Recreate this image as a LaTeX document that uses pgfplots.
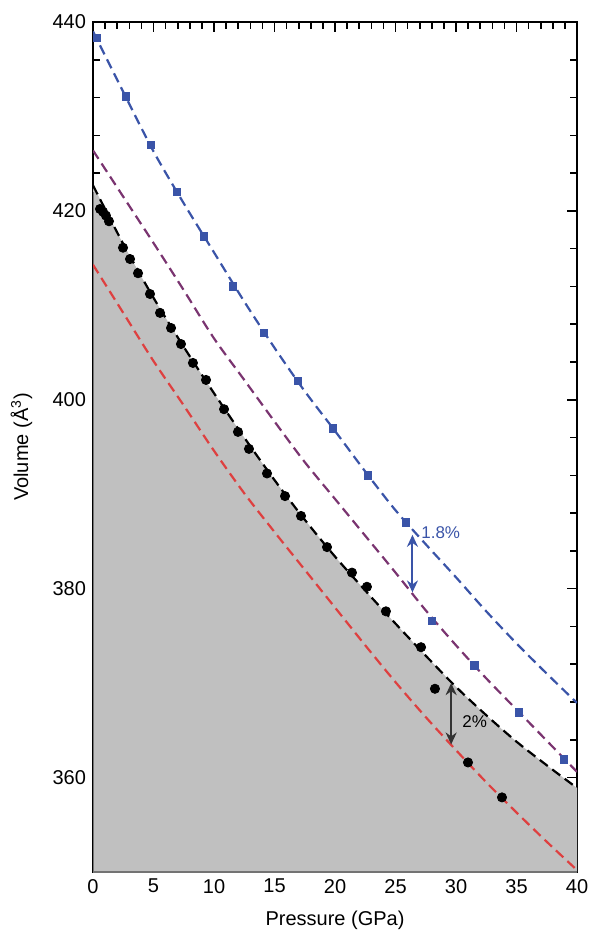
\documentclass[border=0pt]{standalone}
\usepackage{fontspec}
\setmainfont{Liberation Sans}
\usepackage{pgfplots}
\pgfplotsset{compat=1.18}
\usetikzlibrary{arrows.meta}
\definecolor{fitblue}{RGB}{58,84,168}
\definecolor{fitpurple}{RGB}{122,52,112}
\definecolor{fitred}{RGB}{222,64,64}
\definecolor{shade}{RGB}{192,192,192}

% fitted curves (P in GPa, V in A^3)
\pgfplotstableread{
P V
0    439.0
2.5  432.6
5    426.3
7.5  420.8
10   415.6
12.5 410.4
15   405.5
17.5 400.9
20   396.7
22.5 392.4
25   388.3
27.5 384.7
30   381.2
32.5 377.6
35   374.2
37.5 371.0
40   367.9
}\blueline
\pgfplotstableread{
P V
0    426.4
2.5  421.5
5    416.6
7.5  411.6
10   406.5
12.5 402.1
15   397.7
17.5 393.4
20   389.5
22.5 385.6
25   381.7
27.5 377.7
30   374.0
32.5 370.5
35   367.2
37.5 363.9
40   360.6
}\purpleline
\pgfplotstableread{
P V
0    422.7
2.5  416.5
5    410.8
7.5  405.6
10   400.7
12.5 396.0
15   391.5
17.5 387.3
20   383.4
22.5 379.8
25   376.3
27.5 372.9
30   369.6
32.5 366.6
35   363.8
37.5 361.3
40   358.9
}\blackline
\pgfplotstableread{
P V
0    414.3
2.5  409.2
5    404.1
7.5  399.4
10   394.6
12.5 390.1
15   386.0
17.5 382.0
20   378.0
22.5 374.0
25   370.1
27.5 366.4
30   362.9
32.5 359.5
35   356.3
37.5 353.2
40   350.2
}\redline
% measured points
\pgfplotstableread{
P V
0.33  438.3
2.73  432.1
4.79  427.0
6.94  422.0
9.17  417.3
11.57 412.0
14.13 407.1
16.94 402.0
19.83 397.0
22.73 392.0
25.87 387.0
28.0  376.6
31.5  371.9
35.2  366.9
38.9  361.9
}\squares
\pgfplotstableread{
P V
0.58  420.2
0.83  419.9
1.07  419.5
1.32  418.9
2.48  416.1
3.06  414.9
3.72  413.4
4.71  411.2
5.54  409.2
6.45  407.6
7.27  405.9
8.26  403.9
9.34  402.1
10.83 399.0
11.98 396.6
12.89 394.8
14.38 392.2
15.87 389.8
17.19 387.7
19.34 384.4
21.40 381.7
22.64 380.2
24.21 377.6
27.11 373.8
28.26 369.4
30.99 361.6
33.80 357.9
}\circles

\begin{document}
\begin{tikzpicture}
\begin{axis}[
  scale only axis,
  width=242pt, height=425pt,
  xmin=0, xmax=40, ymin=350, ymax=440,
  xtick={0,5,...,40}, ytick={360,380,...,440},
  minor x tick num=4, minor y tick num=4,
  tick align=inside,
  major tick length=5pt, minor tick length=3.5pt,
  tick style={line width=0.8pt, black},
  axis line style={line width=1pt},
  ticklabel style={font=\fontsize{10}{12}\selectfont},
  /pgf/number format/assume math mode=true,
  xlabel={Pressure (GPa)},
  ylabel={Volume (Å\textsuperscript{3})},
  label style={font=\fontsize{10}{12}\selectfont},
  xlabel style={at={(axis description cs:0.5,-0.0565)}, anchor=center},
  ylabel style={at={(axis description cs:-0.148,0.5)}, anchor=center},
  dashline/.style={line width=1.1pt, dash pattern=on 5pt off 2.8pt, smooth},
]
\addplot[draw=none, fill=shade, smooth] table {\blackline} \closedcycle;
\draw[line width=1pt, black!55] (rel axis cs:0,0) -- (rel axis cs:0,0.8);
\draw[line width=1pt, black!55] (rel axis cs:0,0) -- (rel axis cs:1,0);
\addplot[dashline, fitred] table {\redline};
\addplot[dashline, black] table {\blackline};
\addplot[dashline, fitpurple] table {\purpleline};
\addplot[dashline, fitblue] table {\blueline};
\addplot[only marks, mark=square*, mark size=1.9pt, fitblue] table {\squares};
\addplot[only marks, mark=*, mark size=2.3pt, black] table {\circles};

\draw[fitblue, line width=1pt, {Stealth[length=6pt,width=5.5pt]}-{Stealth[length=6pt,width=5.5pt]}]
  (axis cs:26.4,385.7) -- (axis cs:26.4,379.6);
\node[fitblue, anchor=west, inner sep=0pt, font=\fontsize{8.5}{10}\selectfont] at (axis cs:27.1,385.9) {1.8\%};
\draw[black!80, line width=1pt, {Stealth[length=6pt,width=5.5pt]}-{Stealth[length=6pt,width=5.5pt]}]
  (axis cs:29.6,370.0) -- (axis cs:29.6,363.5);
\node[black, anchor=west, inner sep=0pt, font=\fontsize{8.5}{10}\selectfont] at (axis cs:30.5,365.9) {2\%};

\coordinate (bb1) at (rel axis cs:-0.19215,-0.06941);
\coordinate (bb2) at (rel axis cs:1.02686,1.02588);
\end{axis}
\pgfresetboundingbox
\useasboundingbox (bb1) rectangle (bb2);
\end{tikzpicture}
\end{document}
